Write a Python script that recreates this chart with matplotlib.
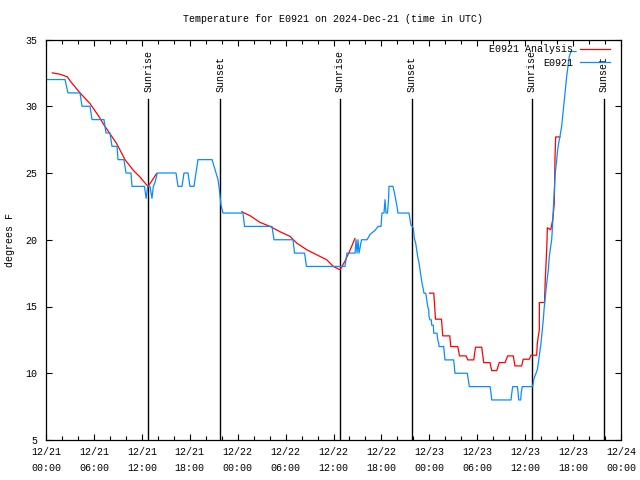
import numpy as np
import pandas as pd
import matplotlib
matplotlib.use("Agg")
import matplotlib.pyplot as plt
import matplotlib.dates as mdates

# Datos (horas desde 2024-12-21 00:00 UTC, grados F)
base = pd.Timestamp("2024-12-21 00:00")

obs_hours = [0.0, 2.38, 2.75, 4.26, 4.51, 5.51, 5.76, 7.26, 7.51, 8.01,
             8.26, 8.89, 9.02, 9.76, 10.02, 10.64, 10.77, 12.33, 12.54, 12.74,
             13.02, 13.27, 13.44, 13.65, 13.94, 16.28, 16.53, 17.03, 17.28, 17.78,
             18.03, 18.53, 18.78, 19.03, 20.79, 21.04, 21.29, 21.54, 21.66, 21.79,
             21.91, 22.16, 24.67, 24.86, 28.30, 28.55, 30.93, 31.12, 32.37, 32.62,
             37.44, 37.69, 38.70, 38.82, 38.95, 39.07, 39.20, 39.51, 40.20, 40.57,
             41.20, 41.57, 41.95, 42.07, 42.32, 42.45, 42.57, 42.76, 42.89, 42.95,
             43.45, 43.70, 43.95, 44.07, 45.45, 45.70, 45.99, 46.12, 46.29, 46.42,
             46.54, 46.71, 46.83, 46.96, 47.08, 47.21, 47.33, 47.55, 47.67, 47.80,
             47.92, 47.96, 48.08, 48.25, 48.30, 48.50, 48.55, 48.96, 49.05, 49.18,
             49.21, 49.80, 49.87, 49.96, 51.05, 51.13, 51.21, 52.76, 52.88, 53.01,
             55.60, 55.73, 55.81, 58.23, 58.32, 58.44, 59.02, 59.10, 59.19, 59.44,
             59.52, 59.64, 60.94, 61.10, 61.35, 61.52, 61.70, 61.86, 61.98, 62.11,
             62.27, 62.36, 62.48, 62.61, 62.70, 62.90, 63.02, 63.20, 63.32, 63.45,
             63.52, 63.65, 63.77, 63.95, 64.07, 64.20, 64.36, 64.57, 64.70, 64.82,
             64.95, 65.07, 65.20, 65.36, 65.53, 65.74, 66.37]
obs_temp = [32, 32, 31, 31, 30, 30, 29, 29, 28, 28,
            27, 27, 26, 26, 25, 25, 24, 24, 23.1, 24,
            24, 23.1, 24, 24.3, 25, 25, 24, 24, 25, 25,
            24, 24, 25, 26, 26, 25.5, 25, 24.5, 24, 23.3,
            22.6, 22, 22, 21, 21, 20, 20, 19, 19, 18,
            18, 19, 19, 20, 19, 20, 19, 20, 20, 20.4,
            20.7, 21, 21, 22, 22, 23, 22, 22, 23, 24,
            24, 23.3, 22.5, 22, 22, 21.1, 20.9, 20.1, 19.75, 19.25,
            18.75, 18.25, 17.75, 17.25, 16.75, 16.4, 16.0, 16.0, 15.5, 15.0,
            14.75, 14.25, 14.0, 14.0, 13.6, 13.6, 13.0, 13.0, 12.5, 12.25,
            12.0, 12.0, 11.5, 11.0, 11.0, 10.5, 10.0, 10.0, 9.5, 9.0,
            9.0, 8.5, 8.0, 8.0, 8.5, 9.0, 9.0, 8.6, 8.0, 8.0,
            8.6, 9.0, 9.0, 9.6, 10.0, 10.25, 11.0, 11.75, 12.25, 13.0,
            14.0, 14.75, 15.5, 16.25, 16.75, 17.75, 18.75, 19.5, 20.0, 21.25,
            22.25, 23.75, 25.0, 26.0, 26.75, 27.25, 27.75, 28.5, 29.25, 30.0,
            30.75, 31.5, 32.25, 33.0, 33.75, 34.1, 34.1]

# Analisis: tres tramos separados
ana1_hours = [0.79, 1.75, 2.67, 3.22, 4.26, 5.51, 6.55, 7.26, 8.85, 9.89,
              10.93, 11.77, 12.61, 12.77, 13.24, 13.84]
ana1_temp = [32.5, 32.4, 32.2, 31.75, 31.0, 30.2, 29.3, 28.6, 27.2, 26.0,
             25.2, 24.7, 24.1, 24.0, 24.4, 24.95]

ana2_hours = [24.51, 25.55, 26.80, 28.05, 29.31, 30.56, 31.40, 32.65, 34.31, 35.15,
              35.98, 36.82, 37.44, 38.06, 38.69]
ana2_temp = [22.1, 21.8, 21.3, 21.0, 20.6, 20.25, 19.75, 19.25, 18.75, 18.5,
             18.0, 17.75, 18.4, 19.2, 20.1]

ana3_hours = [48.02, 48.56, 48.77, 49.52, 49.68, 50.56, 50.68, 51.56, 51.78, 52.61,
              52.81, 53.56, 53.78, 54.56, 54.81, 55.60, 55.81, 56.44, 56.76, 57.48,
              57.81, 58.51, 58.72, 59.56, 59.76, 60.51, 60.73, 61.44, 61.52, 61.77,
              61.78, 62.42, 62.50, 62.71, 62.78, 63.20, 63.45, 63.65, 63.73, 63.82,
              64.36]
ana3_temp = [16.0, 16.0, 14.05, 14.05, 12.8, 12.8, 12.0, 12.0, 11.3, 11.3,
             11.0, 11.0, 11.95, 11.95, 10.8, 10.8, 10.2, 10.2, 10.8, 10.8,
             11.3, 11.3, 10.55, 10.55, 11.05, 11.05, 11.35, 11.35, 12.25, 13.25,
             15.3, 15.3, 16.75, 19.5, 20.9, 20.75, 21.5, 22.75, 26.0, 27.7,
             27.7]

sunrise = ["2024-12-21 12:49", "2024-12-22 12:49", "2024-12-23 12:49"]
sunset = ["2024-12-21 21:50", "2024-12-22 21:50", "2024-12-23 21:50"]


def to_time(hours):
    return base + pd.to_timedelta(np.array(hours), unit="h")


plt.rcParams["font.family"] = ["Liberation Mono", "DejaVu Sans Mono"]
plt.rcParams["font.size"] = 7.2

fig = plt.figure(figsize=(6.4, 4.8), dpi=100)
ax = fig.add_axes([46 / 640, 1 - 440 / 480, 575 / 640, 400.5 / 480])

# lineas de amanecer / atardecer
for t in sunrise:
    ax.axvline(pd.Timestamp(t), ymin=0, ymax=0.851, color="black", lw=1)
    ax.text(pd.Timestamp(t), 0.869, "Sunrise", rotation=90, ha="center", va="bottom",
            transform=ax.get_xaxis_transform())
for t in sunset:
    ax.axvline(pd.Timestamp(t), ymin=0, ymax=0.851, color="black", lw=1)
    ax.text(pd.Timestamp(t), 0.869, "Sunset", rotation=90, ha="center", va="bottom",
            transform=ax.get_xaxis_transform())

red = "#ff0000"
blue = "#0a8cff"
ax.plot(to_time(ana1_hours), ana1_temp, color=red, lw=0.9, label="E0921 Analysis")
ax.plot(to_time(ana2_hours), ana2_temp, color=red, lw=0.9)
ax.plot(to_time(ana3_hours), ana3_temp, color=red, lw=0.9)
ax.plot(to_time(obs_hours), obs_temp, color=blue, lw=0.9, label="E0921")

ax.set_xlim(base, base + pd.Timedelta(hours=72))
ax.set_ylim(5, 35)
ax.set_yticks(range(5, 36, 5))
ax.xaxis.set_major_locator(mdates.HourLocator(byhour=[0, 6, 12, 18]))
ax.xaxis.set_minor_locator(mdates.HourLocator(byhour=range(0, 24, 2)))
ax.xaxis.set_major_formatter(mdates.DateFormatter("%m/%d\n%H:%M"))
for lbl in ax.get_xticklabels():
    lbl.set_linespacing(1.7)
ax.tick_params(axis="both", which="both", direction="in", top=True, right=True)
ax.tick_params(axis="both", which="major", length=4, width=0.8)
ax.tick_params(axis="x", which="minor", length=3, width=0.8)
ax.tick_params(axis="x", which="major", pad=5)
ax.tick_params(axis="y", which="major", pad=6)
for s in ax.spines.values():
    s.set_linewidth(0.9)

fig.text(10 / 640, 0.5, "degrees F", rotation=90, ha="center", va="center")
fig.text(333 / 640, 1 - 19 / 480, "Temperature for E0921 on 2024-Dec-21 (time in UTC)",
         ha="center", va="center")

leg = ax.legend(loc="upper right", bbox_to_anchor=(610 / 640, 1 - 44 / 480),
                bbox_transform=fig.transFigure, frameon=False, markerfirst=False,
                borderpad=0, borderaxespad=0, handlelength=3.0, handletextpad=0.7,
                labelspacing=0.38)

plt.savefig("out.png", dpi=100)
